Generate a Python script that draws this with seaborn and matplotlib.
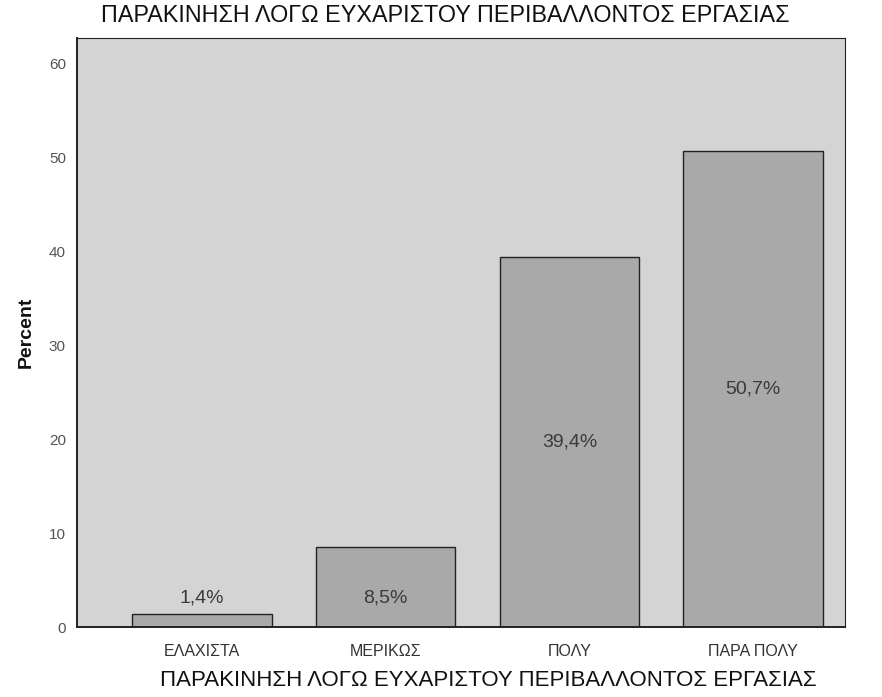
import matplotlib
matplotlib.use("Agg")
import matplotlib.pyplot as plt
import seaborn as sns
import pandas as pd

# data
categories = ["ΕΛΑΧΙΣΤΑ", "ΜΕΡΙΚΩΣ", "ΠΟΛΥ", "ΠΑΡΑ ΠΟΛΥ"]
percent = [1.4, 8.5, 39.4, 50.7]
bar_labels = ["1,4%", "8,5%", "39,4%", "50,7%"]
title = "ΠΑΡΑΚΙΝΗΣΗ ΛΟΓΩ ΕΥΧΑΡΙΣΤΟΥ ΠΕΡΙΒΑΛΛΟΝΤΟΣ ΕΡΓΑΣΙΑΣ"

df = pd.DataFrame({"category": categories, "percent": percent})

sns.set_style("white")
plt.rcParams["font.family"] = ["Liberation Sans", "DejaVu Sans"]

fig = plt.figure(figsize=(8.82, 6.97), dpi=100)
ax = fig.add_axes([0.0873, 0.1004, 0.8707, 0.8451])
ax.set_facecolor("#d4d4d4")

sns.barplot(data=df, x="category", y="percent", color="#a9a9a9",
            saturation=1, width=0.76, edgecolor="#222222", linewidth=1.0, ax=ax)

for i, (v, lab) in enumerate(zip(percent, bar_labels)):
    ypos = v / 2 if v > 20 else 3.1
    ax.text(i, ypos, lab, ha="center", va="center", fontsize=14, color="#3a3a3a")

ax.set_ylim(0, 62.7)
ax.set_xlim(-0.68, 3.5)
ax.set_yticks(range(0, 61, 10))
ax.tick_params(axis="both", direction="out", length=6, width=1, colors="#333333")
ax.tick_params(axis="y", labelsize=11, labelcolor="#555555", pad=2)
ax.tick_params(axis="x", labelsize=11.5, labelcolor="#333333", pad=6)
for s in ax.spines.values():
    s.set_color("#222222")
    s.set_linewidth(0.8)
ax.spines["left"].set_linewidth(1.4)
ax.spines["bottom"].set_linewidth(1.4)

ax.set_xlabel(title, fontsize=16, color="#111111")
ax.xaxis.set_label_coords(0.535, -0.073)
ax.set_ylabel("Percent", fontsize=14, fontweight="bold", color="#111111")
ax.yaxis.set_label_coords(-0.055, 0.5)
fig.text(0.505, 0.978, title, ha="center", va="center", fontsize=16.8, color="#111111")

plt.savefig("out.png", dpi=100)
